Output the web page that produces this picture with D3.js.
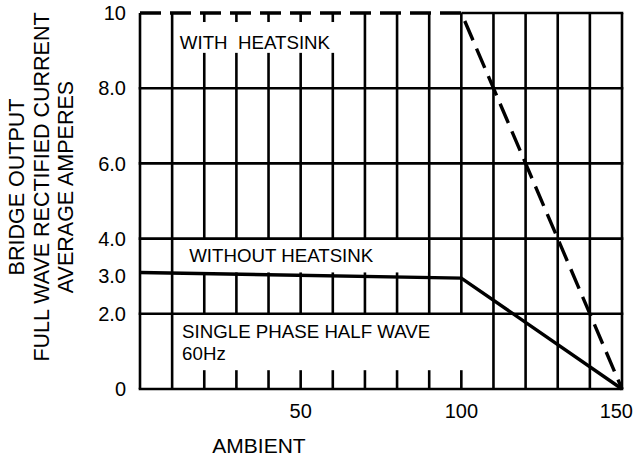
<!DOCTYPE html>
<html>
<head>
<meta charset="utf-8">
<script src="https://cdn.jsdelivr.net/npm/d3@7"></script>
<style>
  html, body { margin: 0; padding: 0; background: #fff; }
  svg { display: block; }
  text { font-family: "Liberation Sans", Arial, Helvetica, sans-serif; fill: #000; }
</style>
</head>
<body>
<svg id="chart" width="635" height="459"></svg>
<script>
// ---- data ----
const withoutHeatsinkTemp = [0, 100, 150];
const withoutHeatsinkAmps = [3.1, 2.95, 0];
const withHeatsinkTemp = [0, 100, 150];
const withHeatsinkAmps = [10, 10, 0];
const xGrid = [0, 10, 20, 30, 40, 50, 60, 70, 80, 90, 100, 110, 120, 130, 140, 150];
const yGrid = [0, 2, 4, 6, 8];
const xTickValues = [50, 100, 150];
const xTickLabels = ["50", "100", "150"];
const yTickValues = [10, 8, 6, 4, 3, 2, 0];
const yTickLabels = ["10", "8.0", "6.0", "4.0", "3.0", "2.0", "0"];
const yTitleLines = ["BRIDGE OUTPUT", "FULL WAVE RECTIFIED CURRENT", "AVERAGE AMPERES"];
const xTitle = "AMBIENT";

// annotations (positions in data units)
const notes = [
  { lines: ["WITH  HEATSINK"], x: 12.4, y: 9.03, box: [11.2, 60.7, 8.94, 9.76] },
  { lines: ["WITHOUT HEATSINK"], x: 15.3, y: 3.38, box: [11.2, 89.6, 3.1, 4.0] },
  { lines: ["SINGLE PHASE HALF WAVE", "60Hz"], x: 13.1, y: 1.36, box: [11.2, 105.8, 0.5, 2.0] }
];

// ---- layout ----
const W = 635, H = 459;
const svg = d3.select("#chart");
const x = d3.scaleLinear().domain([0, 150]).range([140, 622]);
const y = d3.scaleLinear().domain([0, 10]).range([389, 13]);
const gridW = 2.6;

// vertical grid lines
svg.append("g").selectAll("line").data(xGrid).join("line")
  .attr("x1", d => x(d)).attr("x2", d => x(d))
  .attr("y1", y(0)).attr("y2", y(10))
  .attr("stroke", "#000").attr("stroke-width", gridW);

// white boxes behind labels
svg.append("g").selectAll("rect").data(notes).join("rect")
  .attr("x", d => x(d.box[0]))
  .attr("width", d => x(d.box[1]) - x(d.box[0]))
  .attr("y", d => y(d.box[3]))
  .attr("height", d => y(d.box[2]) - y(d.box[3]))
  .attr("fill", "#fff");

// horizontal grid lines
svg.append("g").selectAll("line").data(yGrid).join("line")
  .attr("x1", x(0) - gridW / 2).attr("x2", x(150) + gridW / 2)
  .attr("y1", d => y(d)).attr("y2", d => y(d))
  .attr("stroke", "#000").attr("stroke-width", gridW);

// top border at 10 only where the dashed curve leaves it
svg.append("line")
  .attr("x1", x(withHeatsinkTemp[1])).attr("x2", x(150) + gridW / 2)
  .attr("y1", y(10)).attr("y2", y(10))
  .attr("stroke", "#000").attr("stroke-width", gridW);

// curves
const line = d3.line().x(d => x(d[0])).y(d => y(d[1]));
svg.append("path")
  .datum(withoutHeatsinkTemp.map((t, i) => [t, withoutHeatsinkAmps[i]]))
  .attr("d", line).attr("fill", "none")
  .attr("stroke", "#000").attr("stroke-width", 3.4).attr("stroke-linejoin", "miter");
svg.append("path")
  .datum(withHeatsinkTemp.map((t, i) => [t, withHeatsinkAmps[i]]))
  .attr("d", line).attr("fill", "none")
  .attr("stroke", "#000").attr("stroke-width", 3.4)
  .attr("stroke-dasharray", "21,9");

// annotation text
notes.forEach(n => {
  n.lines.forEach((t, i) => {
    svg.append("text")
      .attr("x", x(n.x)).attr("y", y(n.y) + i * 22)
      .attr("font-size", 18.7)
      .style("white-space", "pre")
      .text(t);
  });
});

// y tick labels
svg.append("g").selectAll("text").data(yTickValues).join("text")
  .attr("x", 126).attr("y", d => y(d))
  .attr("dy", "0.36em")
  .attr("text-anchor", "end")
  .attr("font-size", 20)
  .text((d, i) => yTickLabels[i]);

// x tick labels
const xAxisG = svg.append("g");
xAxisG.selectAll("text").data(xTickValues).join("text")
  .attr("y", 418)
  .attr("font-size", 20)
  .attr("text-anchor", "middle")
  .text((d, i) => xTickLabels[i])
  .each(function(d) {
    const w = this.getComputedTextLength();
    let cx = x(d);
    if (cx + w / 2 > W - 2) cx = W - 2 - w / 2;
    d3.select(this).attr("x", cx);
  });

// x title
svg.append("text")
  .attr("x", 259).attr("y", 453)
  .attr("text-anchor", "middle")
  .attr("font-size", 21)
  .text(xTitle);

// y title (rotated)
const yTitle = svg.append("g").attr("transform", "translate(0,187) rotate(-90)");
const yBase = [24, 49, 73];
yTitleLines.forEach((t, i) => {
  yTitle.append("text")
    .attr("x", 0).attr("y", yBase[i])
    .attr("text-anchor", "middle")
    .attr("font-size", 21.5)
    .text(t);
});
</script>
</body>
</html>
